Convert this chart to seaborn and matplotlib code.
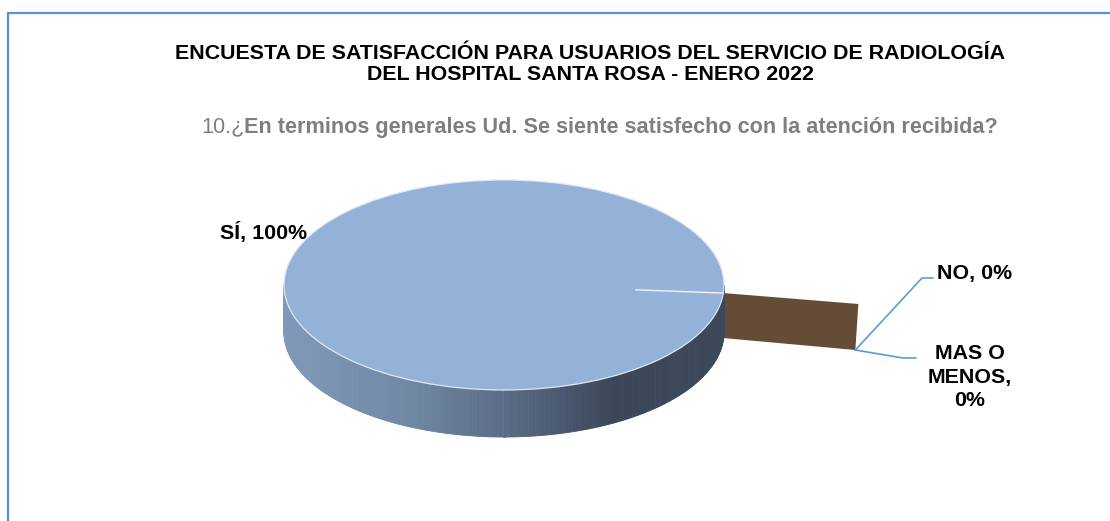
import numpy as np
import matplotlib
matplotlib.use("Agg")
from matplotlib import pyplot as plt
from matplotlib.patches import Ellipse, Polygon
from matplotlib.colors import LinearSegmentedColormap
import seaborn as sns

sns.set_theme(style="white")
plt.rcParams['font.family'] = ['Liberation Sans', 'DejaVu Sans']

# data
labels = ['SÍ', 'NO', 'MAS O\nMENOS']
values = [100, 0, 0]
colors = ['#94b2d7', '#654c37', '#7a5f45']
title = 'ENCUESTA DE SATISFACCIÓN PARA USUARIOS DEL SERVICIO DE RADIOLOGÍA\nDEL HOSPITAL SANTA ROSA - ENERO 2022'
question_num = '10.¿'
question = 'En terminos generales Ud. Se siente satisfecho con la atención recibida?'

# 3d pie geometry (pixel-like units)
cx, cy = 504, 285
ra, rb = 220, 105
depth = 47
start_deg = 4.4
explode = 135

fig = plt.figure(figsize=(11.1, 5.21), dpi=100)
ax = fig.add_axes([0, 0, 1, 1])
ax.set_xlim(0, 1110)
ax.set_ylim(521, 0)
ax.axis('off')

# chart border
ax.plot([8, 8, 1112], [525, 13, 13], color='#5b8fd6', lw=1.6, solid_joinstyle='miter')

fracs = np.array(values) / sum(values)
cum = np.concatenate([[0], np.cumsum(fracs)])
angles = np.deg2rad(start_deg + 360 * cum)

def rim(t):
    return cx + ra * np.cos(t), cy + rb * np.sin(t)

# zero slices: exploded radial face
for i, v in enumerate(values):
    if v == 0 and i == 1:
        t = angles[i]
        x0, y0 = rim(t)
        x1, y1 = x0 + explode, y0 + explode * 0.081
        face = Polygon([(x0, y0), (x1, y1), (x1 - 3, y1 + depth - 1), (x0, y0 + depth - 2)],
                       closed=True, facecolor=colors[i], edgecolor='none', zorder=1)
        ax.add_patch(face)

# side wall with gradient
cmap = LinearSegmentedColormap.from_list('side', [(0, '#8099b9'), (0.3, '#6f86a3'),
                                                  (0.55, '#54657d'), (0.75, '#3a4658'),
                                                  (1, '#3c495b')])
ts = np.linspace(0, np.pi, 300)
for t0, t1 in zip(ts[:-1], ts[1:]):
    xa, ya = rim(t0)
    xb, yb = rim(t1)
    frac = ((xa + xb) / 2 - (cx - ra)) / (2 * ra)
    ax.add_patch(Polygon([(xa, ya), (xb, yb), (xb, yb + depth), (xa, ya + depth)],
                         closed=True, facecolor=cmap(frac), edgecolor=cmap(frac),
                         lw=0.6, zorder=2))

# top face
for i, v in enumerate(values):
    if v == 0:
        continue
    if v == sum(values):
        ax.add_patch(Ellipse((cx, cy), 2 * ra, 2 * rb, facecolor=colors[i],
                             edgecolor='#dfe7f2', lw=0.9, zorder=3))
    else:
        tt = np.linspace(angles[i], angles[i + 1], 100)
        pts = [(cx, cy)] + [rim(t) for t in tt]
        ax.add_patch(Polygon(pts, closed=True, facecolor=colors[i], edgecolor='white', zorder=3))

# slice boundary line
t = angles[1]
xr, yr = rim(t)
ax.plot([cx + 0.6 * (xr - cx), xr], [cy + 0.6 * (yr - cy), yr], color='#eef3f9', lw=1, zorder=4)

# labels
lab_kw = dict(fontsize=15.4, fontweight='bold', color='black', ha='center', va='center')
ax.text(264, 233, f'{labels[0]}, {values[0]}%', **lab_kw)
ax.text(975, 273, f'{labels[1]}, {values[1]}%', **lab_kw)
ax.text(970, 377, f'{labels[2]},\n{values[2]}%', linespacing=1.32, **lab_kw)

# leader lines
xe, ye = xr + explode - 3, yr + explode * 0.081 + depth - 1
ax.plot([xe, 922, 933], [ye, 278, 278], color='#5b9bd5', lw=1.2, zorder=5)
ax.plot([xe, 903, 916], [ye, 358, 358], color='#5b9bd5', lw=1.2, zorder=5)

# titles
ax.text(590, 64, title, fontsize=15.4, fontweight='bold', color='black',
        ha='center', va='center', linespacing=1.15)
t1 = ax.text(201, 127, question_num, fontsize=15.6, color='#7f7f7f', ha='left', va='center')
fig.canvas.draw()
bb = t1.get_window_extent()
x_end = ax.transData.inverted().transform((bb.x1, bb.y0))[0]
ax.text(x_end, 127, question, fontsize=15.6, fontweight='bold', color='#7f7f7f',
        ha='left', va='center')

fig.savefig('out.png', dpi=100)
